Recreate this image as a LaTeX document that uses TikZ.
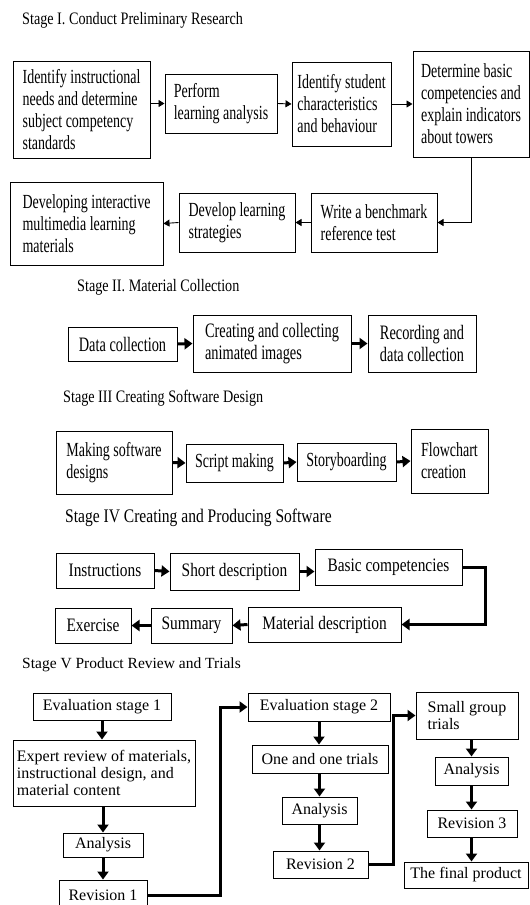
\documentclass[tikz,border=0pt]{standalone}
\usepackage{fontspec}
\setmainfont{Liberation Serif}
\newfontfamily\narrowfont{Liberation Serif}[FakeStretch=0.7]
\newfontfamily\capfont{Liberation Serif}[FakeStretch=0.81]
\usetikzlibrary{arrows.meta}

\tikzset{
  box/.style={draw, line width=1pt, align=left, inner sep=3pt},
  sz/.style 2 args={minimum width=#1pt, minimum height=#2pt},
  sI/.style={box, font=\narrowfont\fontsize{20}{22}\selectfont},
  sII/.style={box, font=\narrowfont\fontsize{20.5}{22}\selectfont},
  sIV/.style={box, font=\capfont\fontsize{19}{21}\selectfont},
  sV/.style={box, font=\fontsize{16}{17}\selectfont},
  stagecap/.style={anchor=west, inner sep=0pt, font=\capfont\fontsize{17.5}{20}\selectfont},
  thinarr/.style={-{Triangle[length=6pt,width=7pt]}, line width=0.9pt},
  thickarr/.style={-{Triangle[length=8pt,width=11pt]}, line width=3pt}
}

\begin{document}
\begin{tikzpicture}[x=1pt, y=-1pt]
  \useasboundingbox (0,0) rectangle (530,905);

  % Stage I
  \node[stagecap] (capI) at (22,20) {Stage I. Conduct Preliminary Research};
  \node[sI, sz={137}{97}] (a1) at (81.5,109.5) {Identify instructional\\needs and determine\\subject competency\\standards};
  \node[sI, sz={112}{59}] (a2) at (221,103.5) {Perform\\learning analysis};
  \node[sI, sz={99}{84}] (a3) at (341.5,104) {Identify student\\characteristics\\and behaviour};
  \node[sI, sz={116}{106}] (a4) at (471,104) {Determine basic\\competencies and\\explain indicators\\about towers};
  \node[sI, sz={126}{59}] (b3) at (374,222.5) {Write a benchmark\\reference test};
  \node[sI, sz={116}{59}] (b2) at (237,222.5) {Develop learning\\strategies};
  \node[sI, sz={153}{83}] (b1) at (86.5,223.5) {Developing interactive\\multimedia learning\\materials};
  \draw[thinarr] (a1.east |- a2.west) -- (a2.west);
  \draw[thinarr] (a2.east) -- (a3.west);
  \draw[thinarr] (a3.east) -- (a4.west);
  \draw[thinarr] (a4.south) |- (b3.east);
  \draw[thinarr] (b3.west) -- (b2.east);
  \draw[thinarr] (b2.west) -- (b1.east);

  % Stage II
  \node[stagecap] (capII) at (77,287) {Stage II. Material Collection};
  \node[sII, sz={109}{34}] (c1) at (122.5,344) {Data collection};
  \node[sII, sz={158}{57}] (c2) at (272,343.5) {Creating and collecting\\animated images};
  \node[sII, sz={108}{57}] (c3) at (422,343.5) {Recording and\\data collection};
  \draw[thickarr] (c1.east) -- (c2.west);
  \draw[thickarr] (c2.east) -- (c3.west);

  % Stage III
  \node[stagecap] (capIII) at (63,398) {Stage III Creating Software Design};
  \node[sI, sz={116}{63}] (d1) at (114,462.5) {Making software\\designs};
  \node[sI, sz={97}{38}] (d2) at (234.5,463) {Script making};
  \node[sI, sz={99}{38}] (d3) at (346.5,462) {Storyboarding};
  \node[sI, sz={77}{64}] (d4) at (449.5,461) {Flowchart\\creation};
  \draw[thickarr] (d1.east) -- (d2.west);
  \draw[thickarr] (d2.east) -- (d3.west);
  \draw[thickarr] (d3.east) -- (d4.west);

  % Stage IV
  \node[stagecap, font=\capfont\fontsize{19.2}{21}\selectfont] (capIV) at (65,518) {Stage IV Creating and Producing Software};
  \node[sIV, sz={98}{35}] (e1) at (105,570.5) {Instructions};
  \node[sIV, sz={129}{37}] (e2) at (234.5,571.5) {Short description};
  \node[sIV, sz={147}{36}] (e3) at (388.5,567) {Basic competencies};
  \node[sIV, sz={153}{35}] (f3) at (324.5,624.5) {Material description};
  \node[sIV, sz={81}{35}] (f2) at (191.5,625.5) {Summary};
  \node[sIV, sz={76}{35}] (f1) at (93,625.5) {Exercise};
  \coordinate (k0) at (485,0);
  \draw[thickarr] (e1.east) -- (e2.west);
  \draw[thickarr] (e2.east) -- (e2.east -| e3.west);
  \draw[thickarr] (e3.east) -| (k0 |- f3.east) -- (f3.east);
  \draw[thickarr] (f3.west) -- (f2.east);
  \draw[thickarr] (f2.west) -- (f1.east);

  % Stage V
  \node[stagecap, font=\fontsize{15.5}{17}\selectfont] (capV) at (22,665) {Stage V Product Review and Trials};
  \node[sV, sz={138}{27}] (g1) at (102,706.5) {Evaluation stage 1};
  \node[sV, sz={182}{66}] (g2) at (104,773) {Expert review of materials,\\instructional design, and\\material content};
  \node[sV, sz={80}{24}] (g3) at (103,845) {Analysis};
  \node[sV, sz={88}{30}] (g4) at (103,895) {Revision 1};
  \node[sV, sz={142}{28}] (h1) at (319,707) {Evaluation stage 2};
  \node[sV, sz={136}{28}] (h2) at (320,759) {One and one trials};
  \node[sV, sz={75}{27}] (h3) at (319.5,810.5) {Analysis};
  \node[sV, sz={95}{27}] (h4) at (320.5,864.5) {Revision 2};
  \node[sV, sz={102}{47}] (i1) at (467,715.5) {Small group\\trials};
  \node[sV, sz={73}{28}] (i2) at (471.5,771) {Analysis};
  \node[sV, sz={90}{27}] (i3) at (472,823.5) {Revision 3};
  \node[sV, sz={124}{26}] (i4) at (466,875) {The final product};
  \coordinate (k1) at (220,0);
  \coordinate (k2) at (393,0);
  \draw[thickarr] (g1.south) -- (g1.south |- g2.north);
  \draw[thickarr] (g3.north |- g2.south) -- (g3.north);
  \draw[thickarr] (g3.south) -- (g3.south |- g4.north);
  \draw[thickarr] (g4.east) -| (k1 |- h1.west) -- (h1.west);
  \draw[thickarr] (h1.south) -- (h1.south |- h2.north);
  \draw[thickarr] (h3.north |- h2.south) -- (h3.north);
  \draw[thickarr] (h3.south) -- (h3.south |- h4.north);
  \draw[thickarr] (h4.east) -| (k2 |- i1.west) -- (i1.west);
  \draw[thickarr] (i2.north |- i1.south) -- (i2.north);
  \draw[thickarr] (i2.south) -- (i2.south |- i3.north);
  \draw[thickarr] (i2.south |- i3.south) -- (i2.south |- i4.north);
\end{tikzpicture}
\end{document}
